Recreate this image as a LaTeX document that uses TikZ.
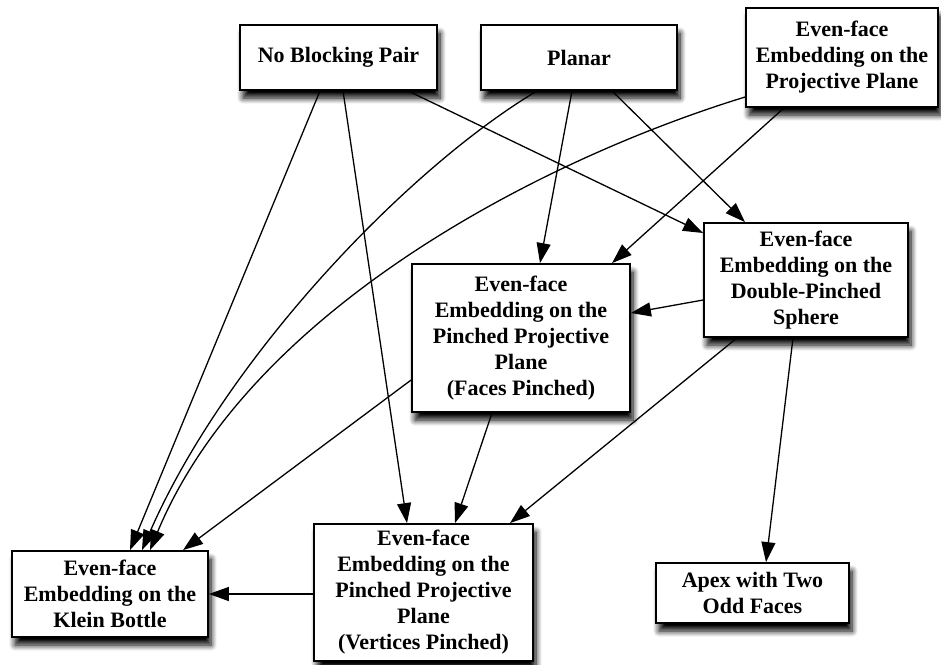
\documentclass[tikz,border=0pt]{standalone}
\usepackage{fontspec}
\setmainfont{Liberation Serif}
\usetikzlibrary{arrows.meta,shadows.blur,calc}
\begin{document}
\begin{tikzpicture}[x=1pt,y=-1pt,
  box/.style={draw, line width=1.8pt, fill=white, inner sep=0pt, align=center,
    font=\fontsize{22}{26}\selectfont\bfseries,
    blur shadow={shadow xshift=3pt, shadow yshift=-8pt, shadow blur radius=6pt, shadow opacity=100, shadow blur steps=8}},
  arr/.style={line width=1.3pt, -{Triangle[length=20pt,width=14pt]}}]
\useasboundingbox (0,0) rectangle (941,664);
\node[box, minimum width=197pt, minimum height=65pt] (nbp) at (338.5,57.5) {No Blocking Pair};
\node[box, minimum width=196pt, minimum height=65pt] (planar) at (579,57.5) {Planar};
\node[box, minimum width=192pt, minimum height=99pt] (proj) at (842,57.5) {Even-face\\Embedding on the\\Projective Plane};
\node[box, minimum width=204pt, minimum height=114pt] (dps) at (806,280) {Even-face\\Embedding on the\\Double-Pinched\\Sphere};
\node[box, minimum width=218pt, minimum height=148pt] (fpp) at (521,338) {Even-face\\Embedding on the\\Pinched Projective\\Plane\\(Faces Pinched)};
\node[box, minimum width=196pt, minimum height=86pt] (klein) at (110,594) {Even-face\\Embedding on the\\Klein Bottle};
\node[box, minimum width=219pt, minimum height=137pt] (vpp) at (423.5,592.5) {Even-face\\Embedding on the\\Pinched Projective\\Plane\\(Vertices Pinched)};
\node[box, minimum width=193pt, minimum height=60pt] (apex) at (752.5,593) {Apex with Two\\Odd Faces};

\draw[arr] ([xshift=-18.5pt]nbp.south) -- ([xshift=20pt]klein.north);
\draw[arr] ([xshift=4.5pt]nbp.south) -- ([xshift=-16.5pt]vpp.north);
\draw[arr] ([xshift=69.5pt]nbp.south) -- ([yshift=47pt]dps.west);
\draw[arr] ([xshift=-42pt]planar.south) .. controls (405,170) and (225,360) .. ([xshift=32pt]klein.north);
\draw[arr] ([yshift=-39.5pt]proj.west) .. controls (540,160) and (250,310) .. ([xshift=40pt]klein.north);
\draw[arr] ([xshift=-7pt]planar.south) -- ([xshift=19pt]fpp.north);
\draw[arr] ([xshift=33pt]planar.south) -- ([xshift=-61pt]dps.north);
\draw[arr] ([xshift=-58pt]proj.south) -- ([xshift=91pt]fpp.north);
\draw[arr] ([yshift=-20pt]dps.west) -- ([yshift=25pt]fpp.east);
\draw[arr] ([xshift=-69pt]dps.south) -- ([xshift=86.5pt]vpp.north);
\draw[arr] ([xshift=-13pt]dps.south) -- ([xshift=13.5pt]apex.north);
\draw[arr] ([yshift=-42pt]fpp.west) -- ([xshift=73pt]klein.north);
\draw[arr] ([xshift=-29pt]fpp.south) -- ([xshift=31.5pt]vpp.north);
\draw[arr] (vpp.west |- klein.east) -- (klein.east);
\end{tikzpicture}
\end{document}
